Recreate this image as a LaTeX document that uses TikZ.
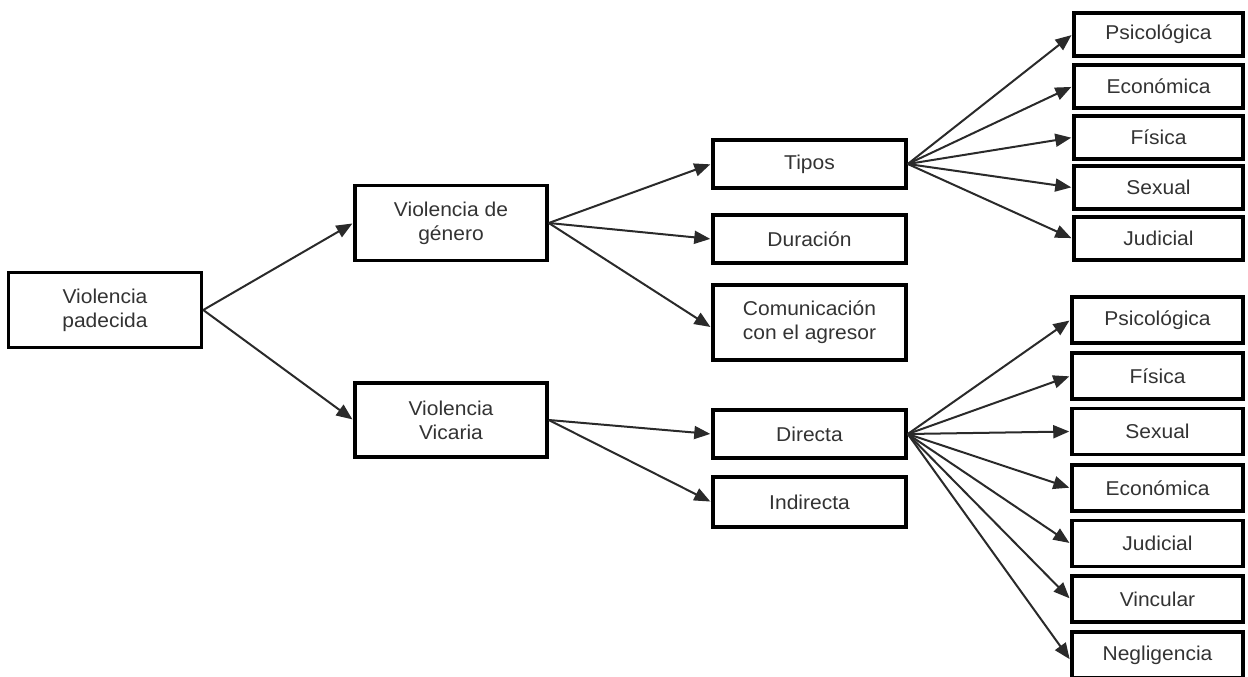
\documentclass[tikz,border=0pt]{standalone}
\usepackage{fontspec}
\setmainfont{Liberation Sans}[FakeStretch=1.05]
\usetikzlibrary{arrows.meta}
\definecolor{txt}{HTML}{333333}
\definecolor{arr}{HTML}{2A2A2A}
\tikzset{
  box/.style={draw=black, line width=3.5pt, fill=white, text=txt, align=center,
    inner sep=0pt, font=\fontsize{20}{24}\selectfont},
  bigbox/.style={box, minimum width=193pt, minimum height=75pt},
  midbox/.style={box, minimum width=193pt, minimum height=48pt},
  leafA/.style={box, minimum width=169pt, minimum height=43pt},
  leafB/.style={box, minimum width=171pt, minimum height=46pt},
  conn/.style={draw=arr, line width=2pt, -{Triangle[length=16pt,width=13pt]}, shorten >=1pt}
}
\begin{document}
\begin{tikzpicture}[x=1pt,y=-1pt]
\useasboundingbox (0,0) rectangle (1248,677);
\clip (0,0) rectangle (1248,677);
% first levels
\node[bigbox] (pad) at (105,310) {Violencia\\padecida};
\node[bigbox, minimum width=192pt] (gen) at (451,223) {Violencia de\\género};
\node[bigbox, minimum width=192pt, minimum height=74pt] (vic) at (451,420) {Violencia\\Vicaria};
% second level
\node[midbox] (tip) at (809.5,164) {Tipos};
\node[midbox] (dur) at (809.5,239) {Duración};
\node[bigbox] (com) at (809.5,322.5) {Comunicación\\con el agresor};
\node[midbox] (dir) at (809.5,434) {Directa};
\node[midbox, minimum height=50pt] (ind) at (809.5,502) {Indirecta};
% leaves top
\node[leafA] (a1) at (1158.5,34.5) {Psicológica};
\node[leafA] (a2) at (1158.5,86.5) {Económica};
\node[leafA] (a3) at (1158.5,137.5) {Física};
\node[leafA] (a4) at (1158.5,187.5) {Sexual};
\node[leafA] (a5) at (1158.5,238.5) {Judicial};
% leaves bottom
\node[leafB] (b1) at (1157.5,320) {Psicológica};
\node[leafB] (b2) at (1157.5,376) {Física};
\node[leafB] (b3) at (1157.5,431.5) {Sexual};
\node[leafB] (b4) at (1157.5,488) {Económica};
\node[leafB] (b5) at (1157.5,543.5) {Judicial};
\node[leafB] (b6) at (1157.5,599) {Vincular};
\node[leafB] (b7) at (1157.5,655) {Negligencia};
% connectors
\draw[conn] (pad.east) -- (gen.west);
\draw[conn] (pad.east) -- (vic.west);
\draw[conn] (gen.east) -- (tip.west);
\draw[conn] (gen.east) -- (dur.west);
\draw[conn] (gen.east) -- ([yshift=-5pt]com.west);
\draw[conn] (vic.east) -- (dir.west);
\draw[conn] (vic.east) -- (ind.west);
\foreach \n in {a1,a2,a3,a4,a5} \draw[conn] (tip.east) -- (\n.west);
\foreach \n in {b1,b2,b3,b4,b5,b6} \draw[conn] (dir.east) -- (\n.west);
\draw[conn] (dir.east) -- ([yshift=-5pt]b7.west);
\end{tikzpicture}
\end{document}
